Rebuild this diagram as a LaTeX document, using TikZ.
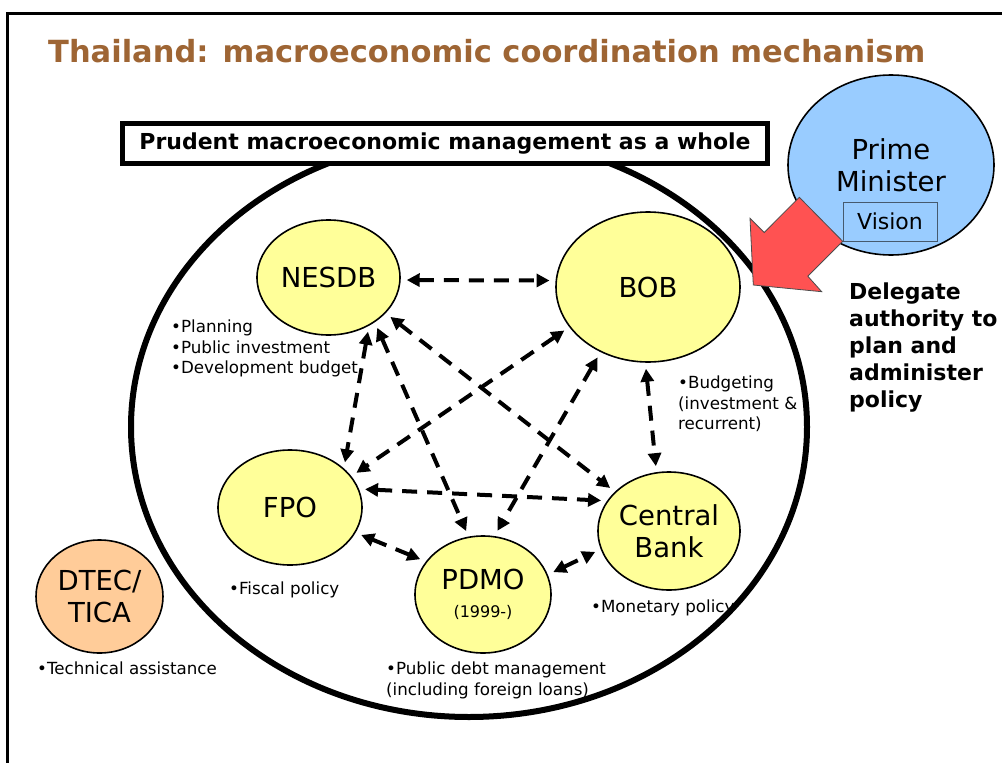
\documentclass[tikz,border=0pt]{standalone}
\usepackage{fontspec}
\setmainfont{DejaVu Sans}
\usetikzlibrary{arrows.meta,shapes.geometric,positioning}

\definecolor{titlebrown}{RGB}{158,101,52}
\definecolor{agencyyellow}{RGB}{255,255,153}
\definecolor{pmblue}{RGB}{153,204,255}
\definecolor{dtecorange}{RGB}{255,204,153}
\definecolor{delegred}{RGB}{255,82,82}
\definecolor{visionedge}{RGB}{70,90,110}

\begin{document}
\begin{tikzpicture}
[x=1pt,y=-1pt,
frame/.style={line width=3pt},
%
agency/.style={shape=ellipse,draw=black,line width=1.6pt,fill=agencyyellow,inner sep=0pt,align=center,font=\fontsize{27.5}{32}\selectfont},
outside/.style={agency,fill=dtecorange},
leader/.style={agency,fill=pmblue},
whole/.style={shape=ellipse,draw=black,line width=6pt,inner sep=0pt},
banner/.style={draw=black,line width=5pt,fill=white,inner sep=0pt,font=\bfseries\fontsize{22}{26}\selectfont},
note/.style={anchor=north west,align=left,inner sep=0pt,font=\fontsize{16.7}{20.5}\selectfont},
%
link/.style={line width=4pt,dash pattern=on 15pt off 10pt,
  {Triangle[length=13pt,width=13pt]}-{Triangle[length=13pt,width=13pt]},
  shorten >=6pt,shorten <=6pt}]

\useasboundingbox (0,0) rectangle (1002,763);
\draw[frame] (7,763) -- (7,13) -- (1002,13);

\node (title) [anchor=base west,inner sep=0pt,text=titlebrown,font=\bfseries\fontsize{30.5}{34}\selectfont]
  at (48,62) {Thailand: macroeconomic coordination mechanism};

% the whole and its agencies
\node (macro) [whole,minimum width=676pt,minimum height=580pt] at (469,427) {};
\node (prudent) [banner,minimum width=645pt,minimum height=40pt] at (445,143.5)
  {Prudent macroeconomic management as a whole};

\node (nesdb) [agency,minimum width=143pt,minimum height=115pt] at (328.5,277.5) {NESDB};
\node (bob) [agency,minimum width=184pt,minimum height=150pt] at (648,287) {BOB};
\node (fpo) [agency,minimum width=144pt,minimum height=115pt] at (290,507.5) {FPO};
\node (cb) [agency,minimum width=142pt,minimum height=118pt] at (669,531) {Central\\Bank};
\node (pdmo) [agency,minimum width=136pt,minimum height=117pt] at (483,594.5)
  {PDMO\\[-4pt]{\fontsize{16}{18}\selectfont(1999-)}};

\draw[link] (nesdb.-2) -- (bob.176);
\draw[link] (nesdb.-50) -- (fpo.36);
\draw[link] (nesdb.-44) -- (pdmo.104);
\draw[link] (nesdb.-32) -- (cb.144);
\draw[link] (bob.-153) -- (fpo.27);
\draw[link] (bob.-126) -- (pdmo.79);
\draw[link] (bob.-92) -- (cb.102);
\draw[link] (fpo.15) -- (cb.154);
\draw[link] (fpo.-21) -- (pdmo.150);
\draw[link] (pdmo.17) -- (cb.-165);

\node (planning) [note] at (171,320) {•Planning\\•Public investment\\•Development budget};
\node (budgeting) [note] at (678,376) {•Budgeting\\(investment \&\\recurrent)};
\node (fiscal) [note] at (229,582) {•Fiscal policy};
\node (monetary) [note] at (591,600) {•Monetary policy};
\node (debt) [note] at (386,662) {•Public debt management\\(including foreign loans)};

\node (dtec) [outside,minimum width=127pt,minimum height=113pt] at (99.5,596.5) {DTEC/\\TICA};
\node (technical) [note] at (37,662) {•Technical assistance};

% prime minister and delegation
\node (pm) [leader,minimum width=206pt,minimum height=180pt] at (891,165) {Prime\\Minister};
\node (vision) [draw=visionedge,line width=1pt,minimum width=94pt,minimum height=39pt,inner sep=0pt,
  font=\fontsize{22}{26}\selectfont] at (890,221.5) {Vision};
\fill[delegred,draw=black!70,line width=0.8pt] (799.3,197.3) -- (842.7,241.3) -- (807.8,276.2)
  -- (821.7,291.7) -- (753.3,285) -- (750,218.3) -- (764.2,232.5) -- cycle;
\node (delegate) [note,font=\bfseries\fontsize{22}{27}\selectfont] at (849,283)
  {Delegate\\authority to\\plan and\\administer\\policy};

\end{tikzpicture}
\end{document}
